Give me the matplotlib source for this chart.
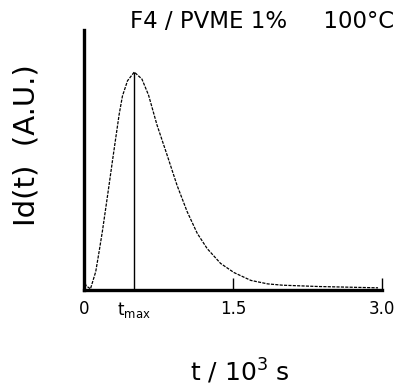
import matplotlib
matplotlib.use("Agg")
import matplotlib.pyplot as plt

# data (t in 10^3 s, intensity in arbitrary units, peak = 100)
t = [0.0, 0.02, 0.065, 0.118, 0.152, 0.185, 0.219, 0.253, 0.286, 0.32, 0.354, 0.387,
     0.438, 0.506, 0.583, 0.65, 0.735, 0.836, 0.937, 1.038, 1.14, 1.24, 1.375, 1.51,
     1.68, 1.85, 2.0, 2.36, 2.96]
intensity = [5.0, 2.0, 0.5, 8.4, 17.6, 26.9, 37.6, 48.4, 59.1, 69.9, 80.6, 89.0,
             96.0, 100.0, 96.8, 89.4, 75.7, 62.0, 48.0, 36.0, 26.0, 19.0, 12.2, 8.0,
             4.4, 2.8, 2.2, 1.6, 1.0]
t_max = 0.506
peak = 100
tick_pos = [0.0, t_max, 1.5, 3.0]
tick_labels = ["0", r"$\mathregular{t_{max}}$", "1.5", "3.0"]

W, H = 398, 390
fig = plt.figure(figsize=(W / 100, H / 100), dpi=100)
ax = fig.add_axes([84 / W, 1 - 290 / H, (382 - 84) / W, (290 - 30) / H])

ax.plot(t, intensity, color="black", lw=0.9, linestyle=(0, (2.5, 1)))
ax.vlines(t_max, 0, peak, color="black", lw=1.0)

ax.set_xlim(0, 3.0)
ax.set_ylim(0, 119.3)
for s in ["top", "right"]:
    ax.spines[s].set_visible(False)
ax.spines["left"].set_linewidth(2.4)
ax.spines["bottom"].set_linewidth(2.4)
ax.set_yticks([])
ax.set_xticks(tick_pos)
ax.set_xticklabels(tick_labels, fontsize=12)
ax.tick_params(axis="x", direction="in", length=9, width=1.0, pad=7)
ticks = ax.xaxis.get_major_ticks()
ticks[0].tick1line.set_visible(False)
ticks[1].tick1line.set_visible(False)

fig.text(394 / W, 1 - 28 / H, "F4 / PVME 1%     100°C", ha="right", va="baseline", fontsize=16.5)
fig.text(240 / W, 1 - 372 / H, r"t / 10$^\mathregular{3}$ s", ha="center", va="center", fontsize=18)
fig.text(27 / W, 1 - 145 / H, "Id(t)  (A.U.)", rotation=90, ha="center", va="center", fontsize=21)

fig.savefig("out.png", dpi=100)
